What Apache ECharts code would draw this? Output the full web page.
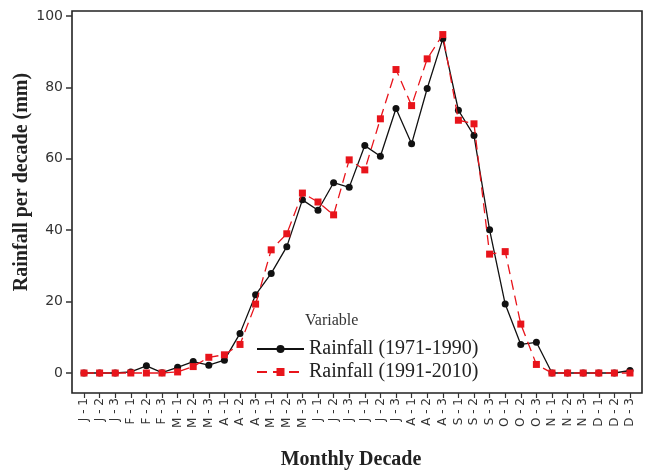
<!DOCTYPE html>
<html><head><meta charset="utf-8">
<script src="https://cdn.jsdelivr.net/npm/echarts@6/dist/echarts.min.js"></script>
<style>html,body{margin:0;padding:0;background:#fff}#c{width:646px;height:472px}</style>
</head><body><div id="c"></div>
<script>
const categories = ['J - 1','J - 2','J - 3','F - 1','F - 2','F - 3','M - 1','M - 2','M - 3','A - 1','A - 2','A - 3',
  'M - 1','M - 2','M - 3','J - 1','J - 2','J - 3','J - 1','J - 2','J - 3','A - 1','A - 2','A - 3',
  'S - 1','S - 2','S - 3','O - 1','O - 2','O - 3','N - 1','N - 2','N - 3','D - 1','D - 2','D - 3'];
const rain1971 = [0,0,0,0.3,2.0,0.1,1.6,3.2,2.2,3.6,11.1,21.9,27.9,35.4,48.5,45.6,53.3,52.0,63.7,60.7,74.1,64.2,79.7,93.6,73.6,66.5,40.1,19.3,8.0,8.6,0,0,0,0,0,0.7];
const rain1991 = [0,0,0,0,0,0,0.3,1.8,4.4,5.1,8.0,19.3,34.5,39.0,50.4,47.9,44.3,59.7,56.9,71.2,85.0,74.9,88.0,94.8,70.8,69.8,33.3,34.0,13.7,2.4,0,0,0,0,0,0];
const seriesNames = ['Rainfall (1971-1990)','Rainfall (1991-2010)'];
const yTicks = [0,20,40,60,80,100];
const yRange = [-5.6, 101.4];
const xRange = [-0.77, 35.77];

const xTicks = categories.map((c,i)=>i);
const toPairs = arr => arr.map((v,i)=>[i,v]);

const chart = echarts.init(document.getElementById('c'), null, {renderer:'canvas'});
const serif = 'Liberation Serif';
chart.setOption({
  animation:false,
  backgroundColor:'#fff',
  grid:{left:72,right:4,top:11,bottom:79,show:true,borderColor:'#222',borderWidth:1.6,backgroundColor:'transparent'},
  xAxis:{
    type:'value', min:xRange[0], max:xRange[1],
    axisLine:{show:false,onZero:false},
    axisTick:{show:true,length:5,customValues:xTicks,lineStyle:{color:'#333',width:1.2}},
    axisLabel:{rotate:90,customValues:xTicks,formatter:v=>categories[Math.round(v)],fontSize:12,color:'#333',margin:5,fontFamily:'DejaVu Sans'},
    splitLine:{show:false}
  },
  yAxis:{
    type:'value', min:yRange[0], max:yRange[1],
    axisLine:{show:false,onZero:false},
    axisTick:{show:true,length:6,customValues:yTicks,lineStyle:{color:'#333',width:1.5}},
    axisLabel:{customValues:yTicks,fontSize:14,color:'#333',margin:9,fontFamily:'DejaVu Sans'},
    splitLine:{show:false}
  },
  legend:{
    orient:'vertical', left:251, top:334, itemWidth:47, itemHeight:10, itemGap:3,
    textStyle:{fontFamily:serif,fontSize:20,color:'#222',lineHeight:20},
    data:seriesNames
  },
  graphic:[
    {type:'text',x:305,y:321,style:{text:'Variable',font:'16px "Liberation Serif"',fill:'#333',textVerticalAlign:'middle'}},
    {type:'text',x:351,y:460,style:{text:'Monthly Decade',font:'bold 20px "Liberation Serif"',fill:'#222',textAlign:'center',textVerticalAlign:'middle'}},
    {type:'text',x:22,y:182,rotation:Math.PI/2,style:{text:'Rainfall per decade (mm)',font:'bold 20px "Liberation Serif"',fill:'#222',textAlign:'center',textVerticalAlign:'middle'}}
  ],
  series:[
    {name:seriesNames[0],type:'line',data:toPairs(rain1971),symbol:'circle',symbolSize:7,
     itemStyle:{color:'#111'},lineStyle:{color:'#111',width:1.3},z:3},
    {name:seriesNames[1],type:'line',data:toPairs(rain1991),symbol:'rect',symbolSize:7,
     itemStyle:{color:'#e8141b'},lineStyle:{color:'#e8141b',width:1.3,type:[10,6]},z:4}
  ]
});
</script></body></html>
